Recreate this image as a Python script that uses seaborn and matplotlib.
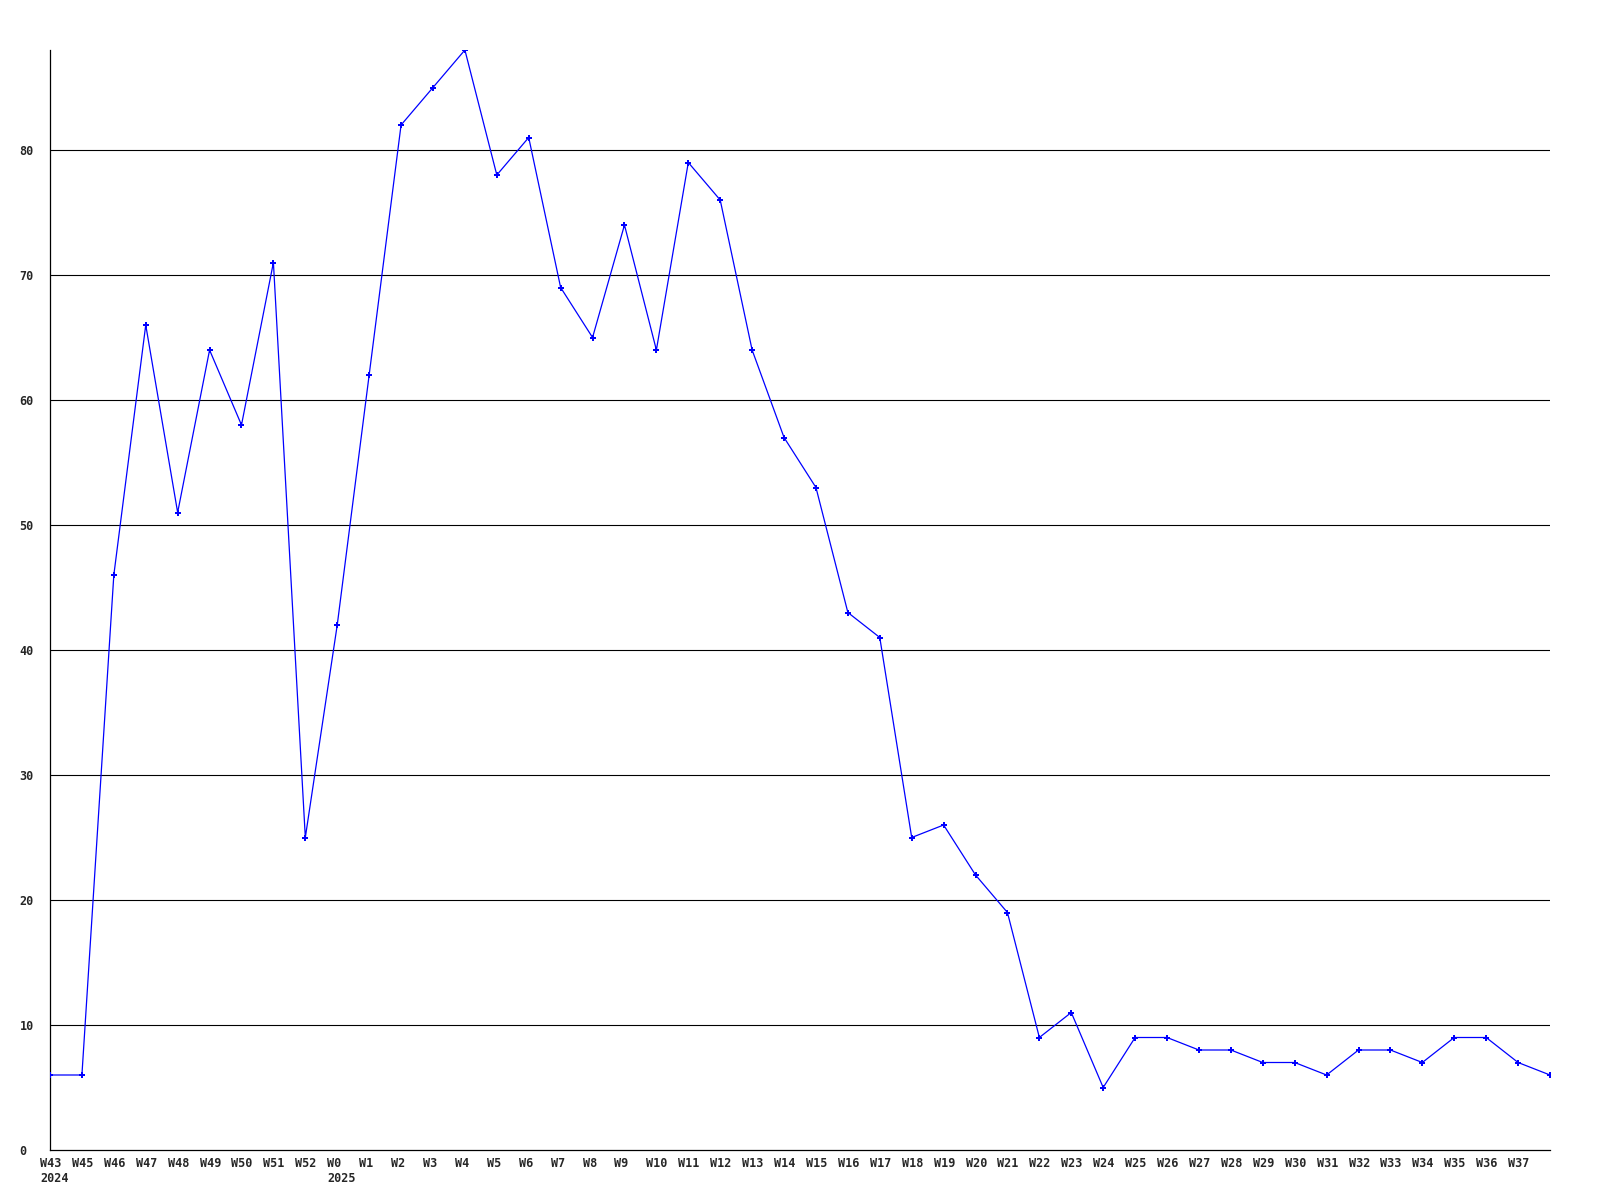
import matplotlib
matplotlib.use("Agg")
import matplotlib.pyplot as plt
import matplotlib.transforms as mtransforms
import seaborn as sns
import pandas as pd

weeks = ["W43\n2024", "W45", "W46", "W47", "W48", "W49", "W50", "W51", "W52",
         "W0\n2025"] + [f"W{i}" for i in range(1, 38)] + [""]
counts = [6, 6, 46, 66, 51, 64, 58, 71, 25,
          42, 62, 82, 85, 88, 78, 81, 69, 65, 74, 64, 79, 76, 64, 57, 53, 43, 41,
          25, 26, 22, 19, 9, 11, 5, 9, 9, 8, 8, 7, 7, 6, 8, 8, 7, 9, 9, 7, 6]

df = pd.DataFrame({"pos": range(len(counts)), "count": counts})

sns.set_style("white")
plt.rcParams['font.family'] = ['DejaVu Sans Mono']

fig = plt.figure(figsize=(16, 12), dpi=100)
ax = fig.add_axes([50 / 1600, 50 / 1200, 1500 / 1600, 1100 / 1200])

for y in range(10, 90, 10):
    ax.axhline(y, color="black", lw=0.8, zorder=1)

sns.lineplot(data=df, x="pos", y="count", ax=ax, color="#0000ff", lw=0.9,
             marker="P", markersize=4.5, markeredgewidth=0, zorder=3)

ax.set_xlim(0, len(counts) - 1)
ax.set_ylim(0, 88)
ax.tick_params(axis="y", length=0, pad=22)
ax.tick_params(axis="x", length=0, pad=5)
ax.set_xticks(range(len(counts)))
ax.set_xticklabels(weeks, fontsize=8.5, fontweight="bold", ha="left",
                   multialignment="left", va="top", linespacing=1.25)
ax.set_yticks(range(0, 90, 10))
ax.set_yticklabels([str(v) for v in range(0, 90, 10)], fontsize=8.5, fontweight="bold", ha="left")
offset = mtransforms.ScaledTranslation(-10 / 100, 0, fig.dpi_scale_trans)
for lab in ax.get_xticklabels():
    lab.set_transform(lab.get_transform() + offset)
ax.set_xlabel("")
ax.set_ylabel("")
for s in ["top", "right"]:
    ax.spines[s].set_visible(False)
for s in ["left", "bottom"]:
    ax.spines[s].set_color("black")
    ax.spines[s].set_linewidth(0.9)

fig.savefig("out.png", dpi=100)
